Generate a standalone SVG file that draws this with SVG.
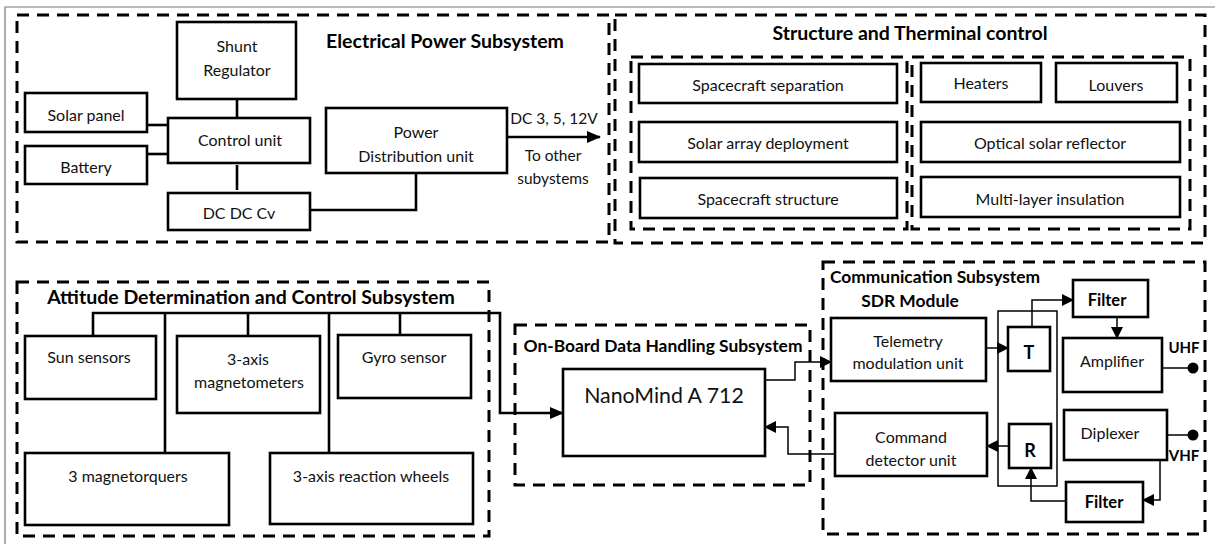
<svg xmlns="http://www.w3.org/2000/svg" width="1215" height="544" viewBox="0 0 1215 544">
<style>
.box{fill:#fff;stroke:#000;stroke-width:2.6}
.dash{fill:none;stroke:#000;stroke-width:3;stroke-dasharray:12 8}
.t{font-family:Lato,"Open Sans","Liberation Sans",sans-serif;font-size:16px;fill:#111;text-anchor:middle;dominant-baseline:central}
.h{font-family:Lato,"Open Sans","Liberation Sans",sans-serif;font-size:19.5px;font-weight:bold;fill:#000;text-anchor:middle;dominant-baseline:central}
.h2{font-family:Lato,"Open Sans","Liberation Sans",sans-serif;font-size:17.4px;font-weight:bold;fill:#000;text-anchor:middle;dominant-baseline:central}
.b{font-family:Lato,"Open Sans","Liberation Sans",sans-serif;font-size:16.5px;font-weight:bold;fill:#000;text-anchor:middle;dominant-baseline:central}
.thick{fill:none;stroke:#000;stroke-width:2.6}
.thin{fill:none;stroke:#000;stroke-width:1.5}
</style>
<defs>
<marker id="aBig" markerUnits="userSpaceOnUse" markerWidth="14" markerHeight="12" refX="13" refY="6" orient="auto"><path d="M0,0 L14,6 L0,12 z" fill="#000"/></marker>
<marker id="aSm" markerUnits="userSpaceOnUse" markerWidth="12" markerHeight="12" refX="11" refY="6" orient="auto"><path d="M0,0 L12,6 L0,12 z" fill="#000"/></marker>
</defs>
<rect width="1215" height="544" fill="#fff"/>
<path d="M5,544 V7 H1215" fill="none" stroke="#777" stroke-width="1.2"/>

<g id="frames">
<rect class="dash" x="17" y="15" width="592" height="227"/>
<rect class="dash" x="615" y="15" width="590" height="228"/>
<rect class="dash" x="631" y="57" width="276" height="172"/>
<rect class="dash" x="912" y="57" width="278" height="172"/>
<rect class="dash" x="17" y="282" width="472" height="254"/>
<rect class="dash" x="515" y="325" width="295" height="160"/>
<rect class="dash" x="823" y="262" width="382" height="272"/>
<text class="h" x="445" y="40">Electrical Power Subsystem</text>
<text class="h" x="910" y="32">Structure and Therminal control</text>
<text class="h" x="251" y="296">Attitude Determination and Control Subsystem</text>
<text class="h2" x="663" y="345">On-Board Data Handling Subsystem</text>
<text class="h2" x="935" y="276">Communication Subsystem</text>
<text class="h2" x="910" y="300">SDR Module</text>
</g>

<g id="connectors">
<path class="thick" d="M237,99 V118"/>
<path class="thick" d="M147,125 H168"/>
<path class="thick" d="M147,154 H168"/>
<path class="thick" d="M237,165 V190"/>
<path class="thick" d="M310,210 H416 V173"/>
<path class="thick" d="M507,137 H600" marker-end="url(#aBig)"/>
<path class="thick" d="M93,335 V313 H500 V413 H563" marker-end="url(#aBig)"/>
<path class="thick" d="M165,313 V453"/>
<path class="thick" d="M248,313 V336"/>
<path class="thick" d="M329,313 V453"/>
<path class="thick" d="M400,313 V335"/>
<path class="thin" d="M765,380 H795 V362 H831" marker-end="url(#aSm)"/>
<path class="thin" d="M835,454 H788 V427 H765" marker-end="url(#aSm)"/>
<rect class="thin" x="998" y="311" width="59" height="175"/>
<path class="thin" d="M986,348 H1008" marker-end="url(#aSm)"/>
<path class="thin" d="M1008,446 H987" marker-end="url(#aSm)"/>
<path class="thin" d="M1032,327 V300 H1073" marker-end="url(#aSm)"/>
<path class="thin" d="M1117,317 V338" marker-end="url(#aSm)"/>
<path class="thin" d="M1162,368 H1193"/>
<path class="thin" d="M1167,435 H1193"/>
<path class="thin" d="M1160,460 V500 H1143" marker-end="url(#aSm)"/>
<path class="thin" d="M1066,501 H1031 V468" marker-end="url(#aSm)"/>
<circle cx="1193" cy="368" r="5.5" fill="#000"/>
<circle cx="1193" cy="435" r="5.5" fill="#000"/>
</g>

<g id="eps-labels">
<text class="t" x="554" y="118" style="font-size:15.5px">DC 3, 5, 12V</text>
<text class="t" x="553" y="155" style="font-size:15.5px">To other</text>
<text class="t" x="553" y="178" style="font-size:15.5px">subystems</text>
</g>

<g id="shunt"><rect class="box" x="177" y="22" width="119" height="77"/><text class="t" x="237" y="45">Shunt</text><text class="t" x="237" y="69">Regulator</text></g>
<g id="solar"><rect class="box" x="25" y="93" width="122" height="39"/><text class="t" x="86" y="114">Solar panel</text></g>
<g id="battery"><rect class="box" x="25" y="146" width="122" height="38"/><text class="t" x="86" y="166">Battery</text></g>
<g id="control"><rect class="box" x="168" y="118" width="142" height="45"/><text class="t" x="240" y="139">Control unit</text></g>
<g id="dcdc"><rect class="box" x="168" y="193" width="142" height="37"/><text class="t" x="239" y="212">DC DC Cv</text></g>
<g id="pdu"><rect class="box" x="326" y="108" width="181" height="65"/><text class="t" x="416" y="131">Power</text><text class="t" x="416" y="155">Distribution unit</text></g>

<g id="sep"><rect class="box" x="639" y="64" width="258" height="39"/><text class="t" x="768" y="84">Spacecraft separation</text></g>
<g id="solararray"><rect class="box" x="639" y="122" width="258" height="40"/><text class="t" x="768" y="142">Solar array deployment</text></g>
<g id="scstruct"><rect class="box" x="640" y="178" width="257" height="40"/><text class="t" x="768" y="198">Spacecraft structure</text></g>
<g id="heaters"><rect class="box" x="921" y="63" width="120" height="39"/><text class="t" x="981" y="82">Heaters</text></g>
<g id="louvers"><rect class="box" x="1056" y="63" width="121" height="39"/><text class="t" x="1116" y="84">Louvers</text></g>
<g id="osr"><rect class="box" x="921" y="122" width="259" height="40"/><text class="t" x="1050" y="142">Optical solar reflector</text></g>
<g id="mli"><rect class="box" x="921" y="177" width="259" height="40"/><text class="t" x="1050" y="198">Multi-layer insulation</text></g>

<g id="sun"><rect class="box" x="25" y="336" width="131" height="63"/><text class="t" x="89" y="356">Sun sensors</text></g>
<g id="mag"><rect class="box" x="177" y="336" width="143" height="77"/><text class="t" x="248" y="358">3-axis</text><text class="t" x="249" y="381">magnetometers</text></g>
<g id="gyro"><rect class="box" x="338" y="335" width="133" height="63"/><text class="t" x="404" y="356">Gyro sensor</text></g>
<g id="torq"><rect class="box" x="25" y="453" width="204" height="72"/><text class="t" x="128" y="475">3 magnetorquers</text></g>
<g id="wheels"><rect class="box" x="270" y="453" width="203" height="71"/><text class="t" x="371" y="475">3-axis reaction wheels</text></g>

<g id="nanomind"><rect class="box" x="563" y="369" width="202" height="87"/><text class="t" x="664" y="395" style="font-size:21.3px">NanoMind A 712</text></g>

<g id="telemetry"><rect class="box" x="831" y="318" width="155" height="63"/><text class="t" x="908" y="340">Telemetry</text><text class="t" x="908" y="362">modulation unit</text></g>
<g id="command"><rect class="box" x="835" y="413" width="152" height="63"/><text class="t" x="911" y="436">Command</text><text class="t" x="911" y="459">detector unit</text></g>
<g id="T"><rect class="box" x="1008" y="327" width="42" height="44"/><text class="b" x="1029" y="352" style="font-size:18px">T</text></g>
<g id="R"><rect class="box" x="1009" y="424" width="42" height="44"/><text class="b" x="1030" y="450" style="font-size:18px">R</text></g>
<g id="filter1"><rect class="box" x="1073" y="280" width="75" height="37"/><text class="b" x="1107" y="300">Filter</text></g>
<g id="amp"><rect class="box" x="1063" y="338" width="99" height="54"/><text class="t" x="1112" y="360">Amplifier</text></g>
<g id="diplexer"><rect class="box" x="1064" y="410" width="103" height="50"/><text class="t" x="1110" y="432">Diplexer</text></g>
<g id="filter2"><rect class="box" x="1066" y="482" width="77" height="40"/><text class="b" x="1104" y="502">Filter</text></g>
<g id="bands"><text class="b" x="1184" y="347" style="font-size:15px">UHF</text><text class="b" x="1184" y="455" style="font-size:15px">VHF</text></g>
</svg>
